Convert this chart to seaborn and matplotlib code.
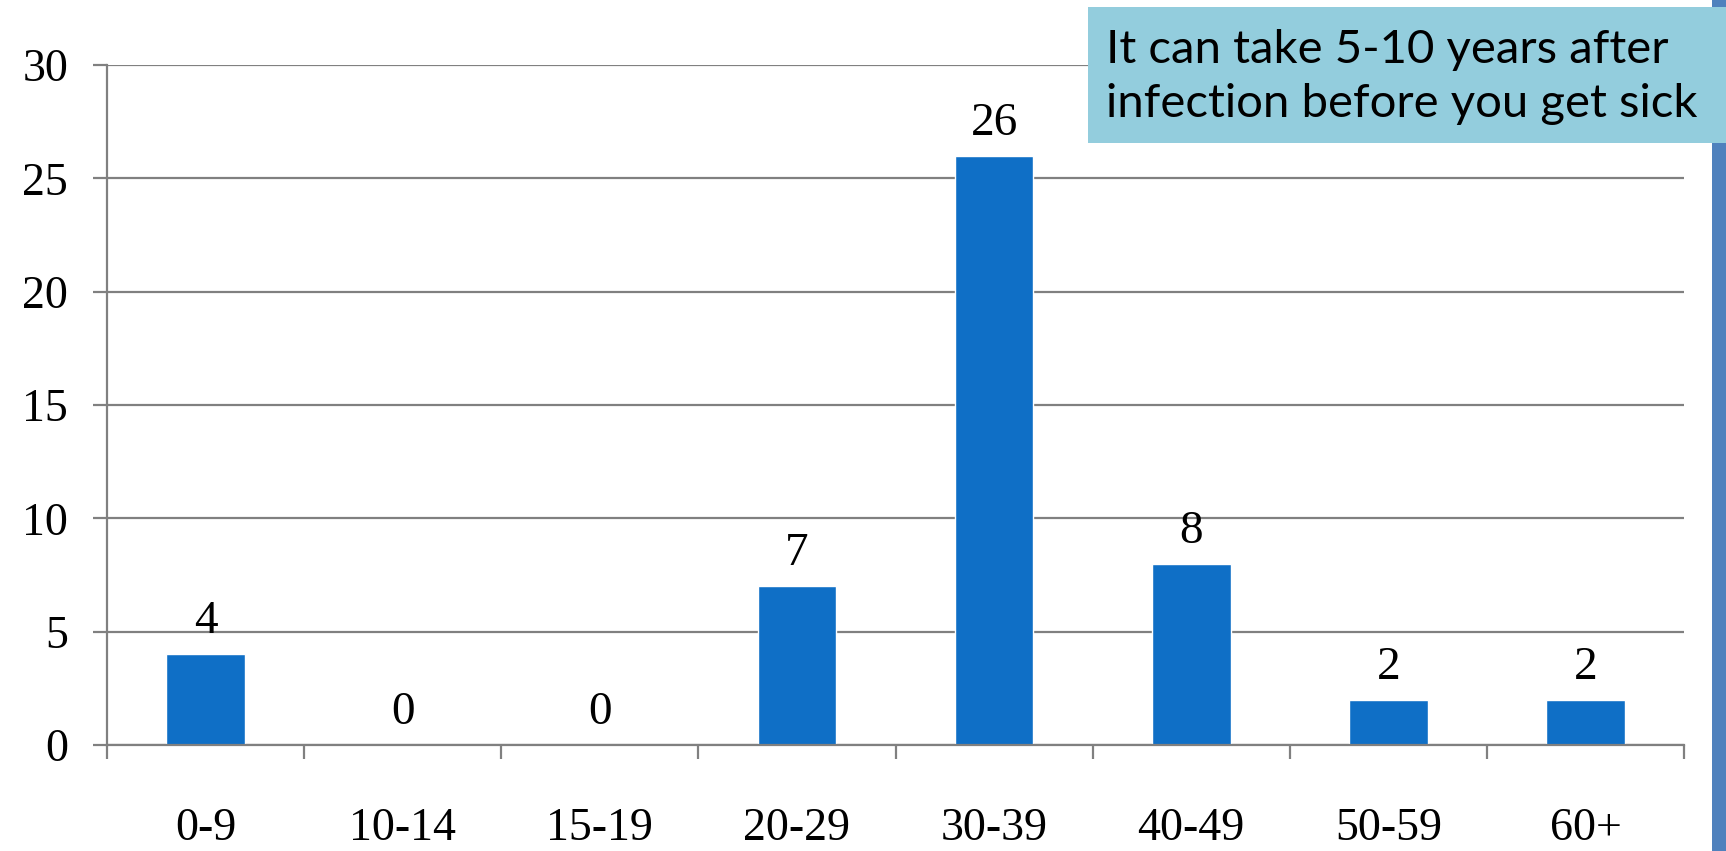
import matplotlib
matplotlib.use("Agg")
import matplotlib.pyplot as plt
import seaborn as sns
import pandas as pd
from matplotlib.patches import Rectangle

categories = ["0-9", "10-14", "15-19", "20-29", "30-39", "40-49", "50-59", "60+"]
values = [4, 0, 0, 7, 26, 8, 2, 2]
y_ticks = [0, 5, 10, 15, 20, 25, 30]
note = "It can take 5-10 years after\ninfection before you get sick"

sns.set_theme(style="white")
plt.rcParams["font.family"] = ["Liberation Serif", "DejaVu Serif"]
plt.rcParams["text.color"] = "black"
plt.rcParams["xtick.color"] = "black"
plt.rcParams["ytick.color"] = "black"

W, H = 1726, 851
fig = plt.figure(figsize=(W / 100, H / 100), dpi=100)
ax = fig.add_axes([107 / W, 1 - 745 / H, (1684 - 107) / W, (745 - 65) / H])

df = pd.DataFrame({"age": categories, "n": values})
sns.barplot(data=df, x="age", y="n", color="#0F6FC6", saturation=1, width=0.4, ax=ax)

ax.set_ylim(0, 30)
ax.set_xlim(-0.5, len(categories) - 0.5)
ax.set_yticks(y_ticks)
ax.set_yticklabels([str(t) for t in y_ticks], fontsize=33)
ax.set_xlabel("")
ax.set_ylabel("")

grid_c = "#808080"
ax.yaxis.grid(True, color=grid_c, linewidth=1.6)
ax.set_axisbelow(True)
for s in ["top", "right"]:
    ax.spines[s].set_visible(False)
for s in ["left", "bottom"]:
    ax.spines[s].set_color(grid_c)
    ax.spines[s].set_linewidth(1.6)

ax.tick_params(axis="y", which="major", direction="out", length=10, width=1.6,
               color=grid_c, labelcolor="black", pad=18, left=True)
ax.tick_params(axis="x", which="major", length=0, pad=45, labelsize=33,
               labelcolor="black")
ax.set_xticks([i - 0.5 for i in range(len(categories) + 1)], minor=True)
ax.tick_params(axis="x", which="minor", direction="out", length=10, width=1.6,
               color=grid_c, bottom=True)

for c in ax.containers:
    ax.bar_label(c, labels=[str(v) for v in values], padding=8, fontsize=34,
                 color="black")

# right edge accent strip
fig.patches.append(Rectangle((1712 / W, 0), 14 / W, 1, transform=fig.transFigure,
                             facecolor="#4F81BD", edgecolor="none", zorder=1))
# note box
fig.patches.append(Rectangle((1088 / W, 1 - 143 / H), (W - 1088) / W, 136 / H,
                             transform=fig.transFigure, facecolor="#93CDDD",
                             edgecolor="none", zorder=2))
fig.text(1106 / W, 1 - 77 / H, note, ha="left", va="center", fontsize=34,
         family=["Lato", "DejaVu Sans"], color="black",
         linespacing=1.38, zorder=3)

fig.savefig("out.png", dpi=100)
